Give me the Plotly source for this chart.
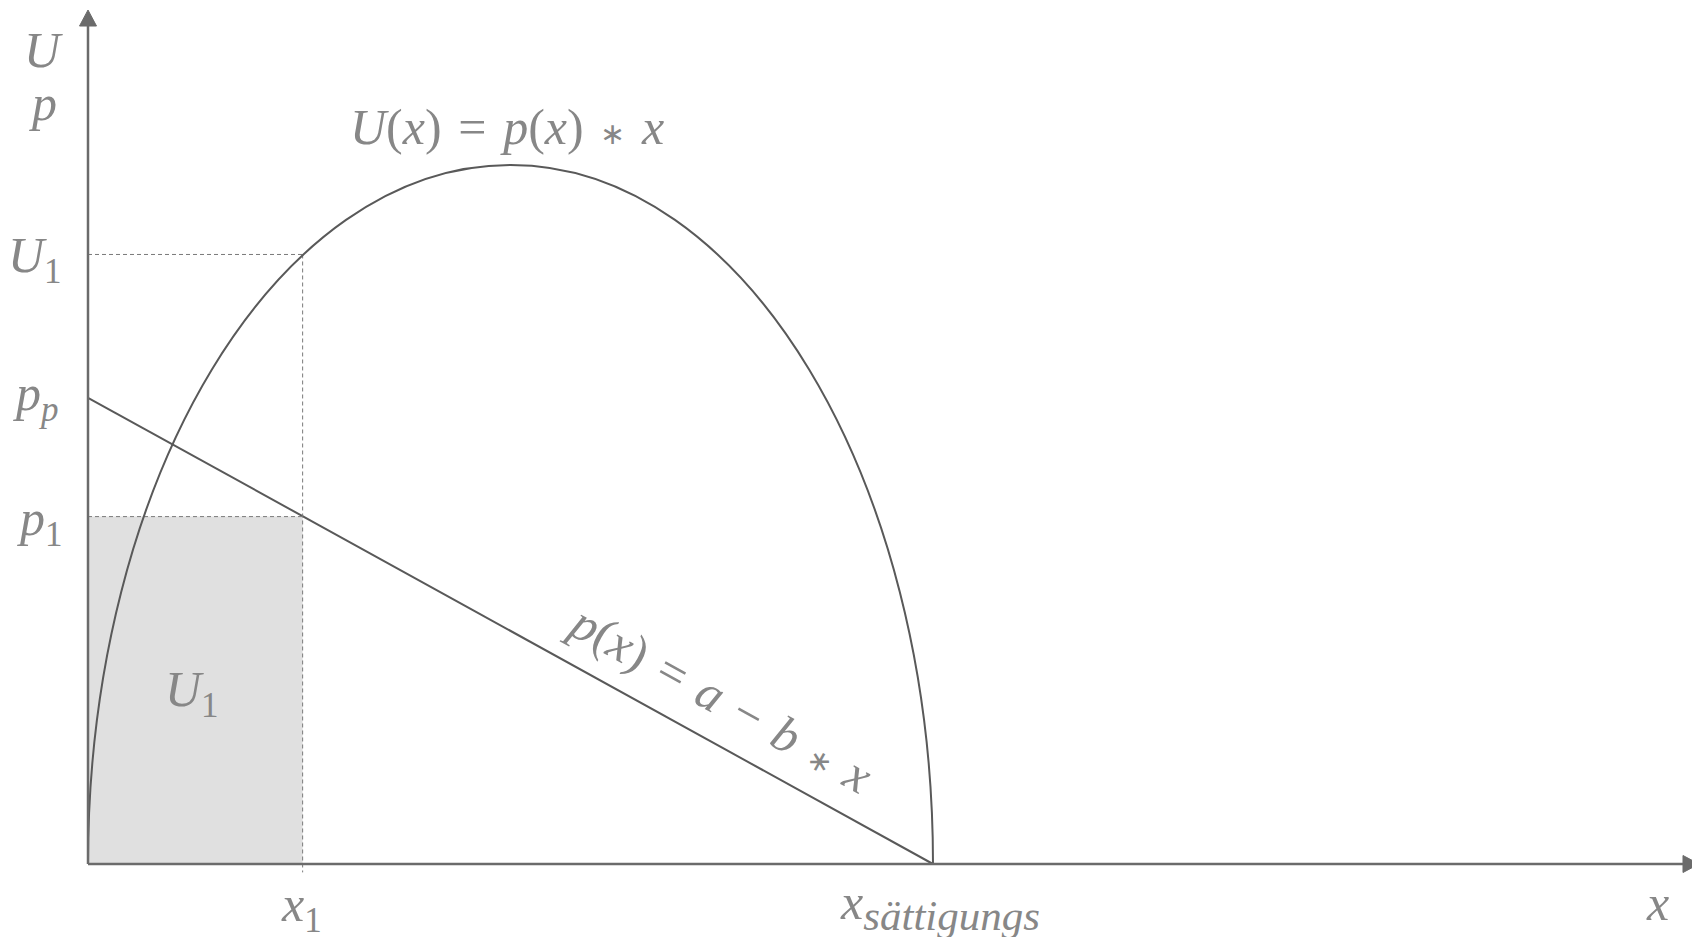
import plotly.graph_objects as go

# ---- data (in abstract units) ----
x_sat = 1.0          # Sättigungsmenge
U_max = 1.0          # Maximum of U(x)
p_p = 0.667          # Prohibitivpreis (a)
x1 = 0.254
p1 = 0.497
U1 = 0.872
x_axis_end = 1.9065
y_axis_end = 1.2217

p_line_x = [0.0, x_sat]
p_line_y = [p_p, 0.0]

# ---- figure geometry (pixel mapping, figure coordinates) ----
W, H = 1700, 937
X0_PX, Y0_PX = 80, 856          # origin in pixels
SX, SY = 845.0, 699.0           # pixels per unit

x_range = [-X0_PX / SX, (W - X0_PX) / SX]
y_range = [-(H - Y0_PX) / SY, Y0_PX / SY]

def dx(px):
    return (px - X0_PX) / SX

def dy(py):
    return (Y0_PX - py) / SY

LINE = "#595959"
AXIS = "#6b6b6b"
TEXT = "#878787"
FILL = "#e0e0e0"
FONT = "Liberation Serif"
FS = 50

fig = go.Figure()

# demand line p(x) = a - b*x
fig.add_trace(go.Scatter(x=p_line_x, y=p_line_y, mode="lines",
                         line=dict(color=LINE, width=2), hoverinfo="skip",
                         showlegend=False))

shapes = []
# shaded revenue rectangle
shapes.append(dict(type="rect", xref="x", yref="y", x0=0, y0=0, x1=x1, y1=p1,
                   fillcolor=FILL, line=dict(width=0), layer="below"))
# dashed helper lines
dash = dict(color="#7a7a7a", width=1, dash="4px,3px")
shapes.append(dict(type="line", xref="x", yref="y", x0=0, y0=U1, x1=x1, y1=U1, line=dash))
shapes.append(dict(type="line", xref="x", yref="y", x0=0, y0=p1, x1=x1, y1=p1, line=dash))
shapes.append(dict(type="line", xref="x", yref="y", x0=x1, y0=U1, x1=x1, y1=-0.012, line=dash))

# revenue curve U(x) (semi-ellipse drawn with two cubic Bezier arcs)
k = 0.5523
xc = x_sat / 2
rx = x_sat / 2
path = (f"M 0,0 C 0,{k*U_max} {xc - k*rx},{U_max} {xc},{U_max} "
        f"C {xc + k*rx},{U_max} {x_sat},{k*U_max} {x_sat},0")
shapes.append(dict(type="path", xref="x", yref="y", path=path,
                   line=dict(color=LINE, width=2)))

# axes
shapes.append(dict(type="line", xref="x", yref="y", x0=0, y0=0, x1=0, y1=y_axis_end - 14 / SY,
                   line=dict(color=AXIS, width=2.5)))
shapes.append(dict(type="line", xref="x", yref="y", x0=0, y0=0, x1=x_axis_end - 14 / SX, y1=0,
                   line=dict(color=AXIS, width=2.5)))
# arrow heads (filled triangles)
hw, hl = 8.5, 16.0
fig.add_trace(go.Scatter(
    x=[-hw / SX, hw / SX, 0, -hw / SX],
    y=[y_axis_end - hl / SY, y_axis_end - hl / SY, y_axis_end, y_axis_end - hl / SY],
    mode="lines", fill="toself", fillcolor=AXIS, line=dict(color=AXIS, width=1),
    hoverinfo="skip", showlegend=False))
fig.add_trace(go.Scatter(
    x=[x_axis_end - hl / SX, x_axis_end - hl / SX, x_axis_end, x_axis_end - hl / SX],
    y=[-hw / SY, hw / SY, 0, -hw / SY],
    mode="lines", fill="toself", fillcolor=AXIS, line=dict(color=AXIS, width=1),
    hoverinfo="skip", showlegend=False))

font = dict(family=FONT, size=FS, color=TEXT)
ann = []
def label(text, px, py, **kw):
    d = dict(text=text, x=dx(px), y=dy(py), xref="x", yref="y", showarrow=False,
             font=font, xanchor="center", yanchor="middle")
    d.update(kw)
    ann.append(d)

SP = "\u2004"
AST = "<span style='font-size:30px'>∗</span>"
label("<i>U</i>", 35, 42)
label("<i>p</i>", 35, 95)
label(f"<i>U</i>(<i>x</i>){SP}={SP}<i>p</i>(<i>x</i>){SP}{AST}{SP}<i>x</i>", 499, 119)
label("<i>U</i><sub>1</sub>", 27, 251)
label("<i>p<sub>p</sub></i>", 28, 389)
label("<i>p</i><sub>1</sub>", 32, 514)
label("<i>U</i><sub>1</sub>", 184, 685)
label("<i>x</i><sub>1</sub>", 293, 900)
label("<i>x</i><sub><i><span style='font-size:43px'>sättigungs</span></i></sub>", 932, 898)
label("<i>x</i>", 1649, 895)
label(f"<i>p</i>(<i>x</i>){SP}={SP}<i>a</i>{SP}−{SP}<i>b</i>{SP}{AST}{SP}<i>x</i>", 712, 690,
      textangle=28.9)

fig.update_layout(
    width=W, height=H,
    margin=dict(l=0, r=0, t=0, b=0),
    paper_bgcolor="white", plot_bgcolor="white",
    xaxis=dict(range=x_range, visible=False, fixedrange=True),
    yaxis=dict(range=y_range, visible=False, fixedrange=True),
    shapes=shapes, annotations=ann, showlegend=False,
)

fig.write_html("out.html")
